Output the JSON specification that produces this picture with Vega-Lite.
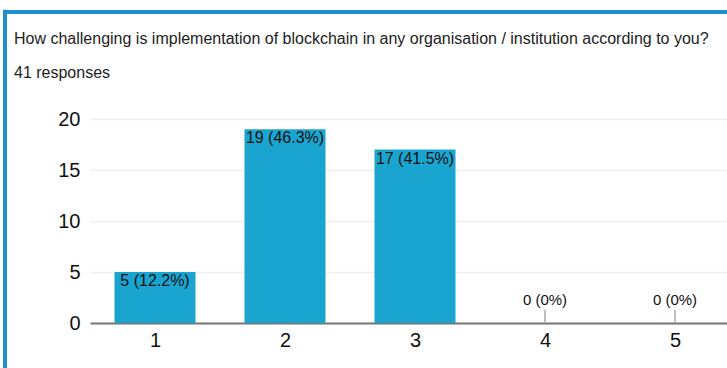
{
  "$schema": "https://vega.github.io/schema/vega-lite/v6.json",
  "autosize": {"type": "none"},
  "width": 637,
  "height": 204,
  "padding": {"left": 90, "top": 119, "right": 0, "bottom": 45},
  "background": "white",
  "title": {
    "text": "How challenging is implementation of blockchain in any organisation / institution according to you?",
    "subtitle": "41 responses",
    "anchor": "start",
    "frame": "group",
    "dx": -76,
    "offset": -73,
    "font": "Liberation Sans",
    "fontSize": 16,
    "fontWeight": "normal",
    "color": "#222222",
    "subtitleFont": "Liberation Sans",
    "subtitleFontSize": 16,
    "subtitleColor": "#222222",
    "subtitlePadding": 18
  },
  "config": {
    "view": {"stroke": null},
    "font": "Liberation Sans"
  },
  "data": {
    "values": [
      {"option": 1, "count": 5, "label": "5 (12.2%)"},
      {"option": 2, "count": 19, "label": "19 (46.3%)"},
      {"option": 3, "count": 17, "label": "17 (41.5%)"},
      {"option": 4, "count": 0, "label": "0 (0%)"},
      {"option": 5, "count": 0, "label": "0 (0%)"}
    ]
  },
  "encoding": {
    "x": {
      "field": "option",
      "type": "quantitative",
      "scale": {"domain": [0.5, 5.4], "nice": false, "zero": false, "padding": 0},
      "axis": {
        "values": [1, 2, 3, 4, 5],
        "format": "d",
        "title": null,
        "grid": false,
        "ticks": false,
        "domainColor": "#777777",
        "domainWidth": 2,
        "labelFontSize": 20,
        "labelColor": "#111111",
        "labelPadding": 7,
        "labelFont": "Liberation Sans"
      }
    },
    "y": {
      "field": "count",
      "type": "quantitative",
      "scale": {"domain": [0, 20], "nice": false},
      "axis": {
        "values": [0, 5, 10, 15, 20],
        "title": null,
        "domain": false,
        "ticks": false,
        "grid": true,
        "gridColor": "#eeeeee",
        "gridWidth": 1.5,
        "labelFontSize": 20,
        "labelColor": "#111111",
        "labelPadding": 10,
        "labelFont": "Liberation Sans"
      }
    }
  },
  "layer": [
    {
      "mark": {"type": "bar", "size": 81, "color": "#1aa5d0"},
      "encoding": {}
    },
    {
      "transform": [{"filter": "datum.count > 0"}],
      "mark": {"type": "text", "baseline": "top", "align": "center", "dy": 1, "fontSize": 16, "color": "#111111"},
      "encoding": {"text": {"field": "label"}}
    },
    {
      "transform": [{"filter": "datum.count == 0"}],
      "mark": {"type": "text", "baseline": "alphabetic", "align": "center", "dy": -18, "fontSize": 15, "color": "#111111"},
      "encoding": {"text": {"field": "label"}}
    },
    {
      "transform": [{"filter": "datum.count == 0"}],
      "mark": {"type": "rule", "color": "#aaaaaa", "strokeWidth": 1.5},
      "encoding": {"y": {"datum": 0}, "y2": {"datum": 1.3}}
    },
    {
      "transform": [{"filter": "datum.option == 1"}],
      "mark": {"type": "rule", "color": "#1f8fd0", "strokeWidth": 4, "clip": false},
      "encoding": {"x": {"datum": -0.154}, "x2": {"datum": 6}, "y": {"datum": 30.5}}
    },
    {
      "transform": [{"filter": "datum.option == 1"}],
      "mark": {"type": "rule", "color": "#1f8fd0", "strokeWidth": 4, "clip": false},
      "encoding": {"x": {"datum": -0.154}, "y": {"datum": 30.7}, "y2": {"datum": -6}}
    }
  ]
}
